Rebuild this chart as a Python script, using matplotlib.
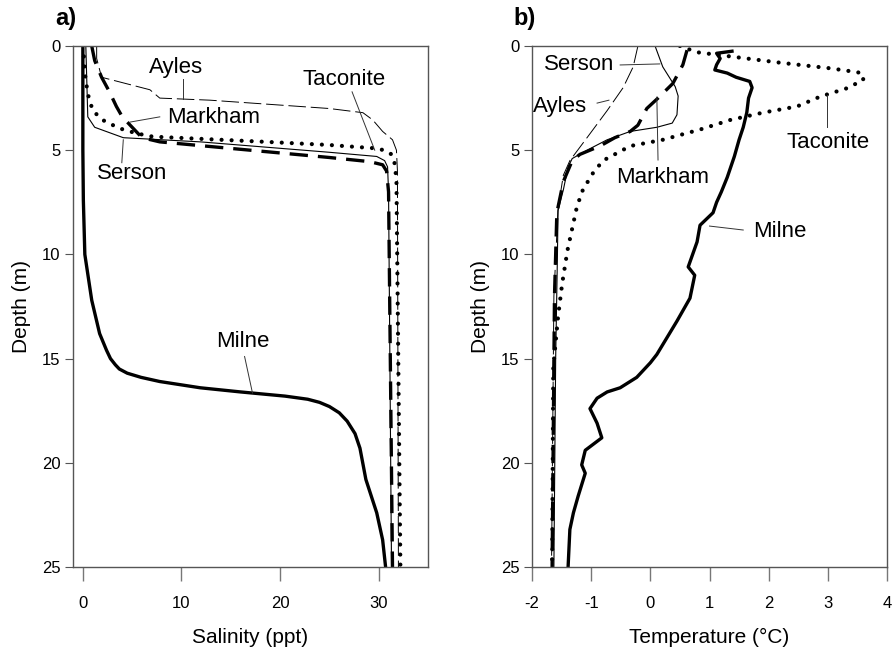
import matplotlib
matplotlib.use('Agg')
import matplotlib.pyplot as plt

plt.rcParams['font.family'] = ['Liberation Sans', 'DejaVu Sans']
plt.rcParams['axes.unicode_minus'] = False

# ---- a) salinity profiles (depth m, salinity ppt)
milne_sal_depth = [0, 5, 7.4, 10, 12.2, 13.8, 14.6, 15.0, 15.3, 15.5, 15.7, 15.9, 16.1, 16.4, 16.6,
                   16.8, 16.95, 17.1, 17.3, 17.6, 18.0, 18.6, 19.3, 20.8, 22.4, 23.7, 25]
milne_sal = [0.0, 0.0, 0.05, 0.2, 0.9, 1.7, 2.4, 2.8, 3.3, 3.7, 4.5, 5.9, 7.8, 11.9, 16.0,
             20.5, 22.8, 24.0, 25.0, 26.0, 26.8, 27.6, 28.1, 28.7, 29.8, 30.4, 30.7]

serson_sal_depth = [0, 3.4, 3.9, 4.4, 4.6, 5.1, 5.3, 5.5, 5.8, 7, 25]
serson_sal = [0.3, 0.5, 1.2, 4.1, 11.9, 25.0, 29.8, 30.6, 30.9, 31.0, 31.3]

markham_sal_depth = [0, 0.7, 1.5, 2.2, 2.9, 3.4, 3.9, 4.4, 4.6, 5.35, 5.55, 5.7, 6.0, 7, 25]
markham_sal = [0.9, 1.2, 1.9, 2.7, 3.4, 4.0, 5.0, 6.0, 7.8, 25.0, 29.1, 30.4, 30.8, 31.0, 31.4]

ayles_sal_depth = [0, 0.6, 1.5, 2.1, 2.5, 2.6, 3.0, 3.2, 3.55, 4.1, 4.5, 5.0, 6.0, 25]
ayles_sal = [1.4, 1.4, 1.9, 6.8, 7.8, 12.9, 25.0, 28.4, 29.4, 30.4, 31.4, 31.8, 31.9, 32.0]

taconite_sal_depth = [0.5, 1.3, 2.3, 3.1, 3.55, 3.95, 4.2, 4.35, 4.6, 4.75, 4.9, 5.0, 5.2, 5.6, 6.4, 25]
taconite_sal = [0.1, 0.2, 0.5, 1.0, 2.0, 3.7, 5.5, 7.1, 18.6, 25.0, 29.4, 30.6, 31.3, 31.6, 31.8, 32.2]

# ---- b) temperature profiles (depth m, deg C)
milne_temp_depth = [0.25, 0.35, 0.6, 0.9, 1.15, 1.3, 1.5, 1.7, 2.0, 2.5, 3.2, 3.9, 4.5, 5.3, 6.3,
                    7.0, 7.5, 8.0, 8.6, 9.4, 10.6, 11.0, 12.1, 13.2, 14.8, 15.2, 15.9, 16.4,
                    16.6, 16.9, 17.4, 18.1, 18.8, 19.4, 20.1, 20.5, 21.6, 22.4, 23.2, 25]
milne_temp = [1.38, 1.12, 1.18, 1.12, 1.09, 1.3, 1.45, 1.68, 1.72, 1.66, 1.63, 1.57, 1.5, 1.42, 1.3,
              1.2, 1.12, 1.06, 0.84, 0.79, 0.64, 0.75, 0.67, 0.45, 0.11, 0.0, -0.23, -0.51,
              -0.73, -0.9, -1.02, -0.9, -0.82, -1.1, -1.16, -1.1, -1.22, -1.3, -1.36, -1.39]

serson_temp_depth = [0, 1.0, 1.95, 2.4, 3.3, 3.7, 3.9, 4.1, 4.5, 5.0, 5.4, 5.8, 6.9, 7.9, 10, 15, 25]
serson_temp = [0.08, 0.21, 0.42, 0.47, 0.45, 0.37, 0.11, -0.34, -0.73, -1.07, -1.32, -1.39, -1.47,
               -1.56, -1.57, -1.6, -1.63]

markham_temp_depth = [0.2, 0.9, 1.8, 2.5, 3.0, 3.8, 4.1, 4.4, 4.8, 5.2, 5.5, 6.5, 8.0, 12, 25]
markham_temp = [0.62, 0.55, 0.38, 0.13, -0.06, -0.21, -0.34, -0.6, -0.85, -1.19, -1.32, -1.47,
                -1.58, -1.62, -1.66]

ayles_temp_depth = [0, 1.0, 2.0, 3.1, 4.4, 5.5, 6.2, 7.8, 12, 25]
ayles_temp = [-0.21, -0.29, -0.46, -0.73, -1.07, -1.36, -1.47, -1.56, -1.63, -1.67]

taconite_temp_depth = [0, 0.3, 0.5, 0.8, 1.07, 1.23, 1.3, 1.63, 2.03, 2.43, 2.9, 3.2, 3.55, 4.0,
                       4.5, 4.8, 5.5, 6.1, 6.9, 7.7, 9.8, 11.4, 13.0, 15.4, 25]
taconite_temp = [0.5, 0.79, 1.35, 2.19, 3.04, 3.43, 3.58, 3.6, 3.32, 2.87, 2.48, 1.9, 1.35, 0.85,
                 0.21, -0.34, -0.8, -0.97, -1.14, -1.24, -1.4, -1.49, -1.56, -1.64, -1.66]

sal_ticks = [0, 10, 20, 30]
temp_ticks = [-2, -1, 0, 1, 2, 3, 4]
depth_ticks = [0, 5, 10, 15, 20, 25]

# line styles per station
styles = {
    'Milne': dict(color='black', lw=2.4, ls='-'),
    'Serson': dict(color='black', lw=0.8, ls='-'),
    'Ayles': dict(color='black', lw=0.7, ls=(0, (18, 5))),
    'Markham': dict(color='black', lw=2.4, ls=(0, (5.5, 3))),
    'Taconite': dict(color='black', lw=3.0, ls=(0, (0.01, 2.4)), dash_capstyle='round'),
}

fig = plt.figure(figsize=(8.94, 6.54), dpi=100)
ax1 = fig.add_axes([73/894, 87/654, 355/894, 521/654])
ax2 = fig.add_axes([532/894, 87/654, 355/894, 521/654])

series_a = [('Milne', milne_sal, milne_sal_depth), ('Serson', serson_sal, serson_sal_depth),
            ('Ayles', ayles_sal, ayles_sal_depth), ('Markham', markham_sal, markham_sal_depth),
            ('Taconite', taconite_sal, taconite_sal_depth)]
series_b = [('Milne', milne_temp, milne_temp_depth), ('Serson', serson_temp, serson_temp_depth),
            ('Ayles', ayles_temp, ayles_temp_depth), ('Markham', markham_temp, markham_temp_depth),
            ('Taconite', taconite_temp, taconite_temp_depth)]

for ax, series in [(ax1, series_a), (ax2, series_b)]:
    for name, x, d in series:
        ax.plot(x, d, **styles[name])

# labels: text (x, depth), leader start, leader end
labels_a = [('Ayles', (9.4, 1.05), (10.2, 1.6), (10.2, 2.55)),
            ('Taconite', (26.5, 1.63), (27.3, 2.2), (29.6, 5.0)),
            ('Markham', (13.3, 3.45), (7.8, 3.4), (4.8, 3.65)),
            ('Serson', (5.0, 6.1), (3.95, 5.6), (4.1, 4.5)),
            ('Milne', (16.2, 14.2), (16.4, 14.9), (17.2, 16.65))]
labels_b = [('Serson', (-1.2, 0.87), (-0.51, 0.91), (0.16, 0.86)),
            ('Ayles', (-1.53, 2.9), (-0.9, 2.74), (-0.7, 2.6)),
            ('Markham', (0.21, 6.3), (0.13, 5.47), (0.11, 2.45)),
            ('Taconite', (3.0, 4.65), (2.98, 3.9), (2.98, 2.35)),
            ('Milne', (2.19, 8.9), (1.57, 8.83), (1.0, 8.64))]

for ax, labels in [(ax1, labels_a), (ax2, labels_b)]:
    for txt, pos, p0, p1 in labels:
        ax.text(pos[0], pos[1], txt, fontsize=16, ha='center', va='center')
        ax.plot([p0[0], p1[0]], [p0[1], p1[1]], color='#333333', lw=0.7)

ax1.set_xlim(-1, 35)
ax1.set_xticks(sal_ticks)
ax1.set_xlabel('Salinity (ppt)', fontsize=15, labelpad=12)
ax2.set_xlim(-2, 4)
ax2.set_xticks(temp_ticks)
ax2.set_xlabel('Temperature (\u00b0C)', fontsize=15, labelpad=12)

for ax in (ax1, ax2):
    ax.set_ylim(25, 0)
    ax.set_yticks(depth_ticks)
    ax.set_ylabel('Depth (m)', fontsize=15, labelpad=8)
    ax.tick_params(axis='x', direction='out', length=10, width=1, color='#777777', pad=11, labelsize=12)
    ax.tick_params(axis='y', direction='out', length=6, width=0.8, color='#555555', pad=3, labelsize=12)
    for sp in ax.spines.values():
        sp.set_color('#555555')
        sp.set_linewidth(1.0)

fig.text(55/894, 1 - 18/654, 'a)', fontsize=17, fontweight='bold', va='center', ha='left')
fig.text(513/894, 1 - 18/654, 'b)', fontsize=17, fontweight='bold', va='center', ha='left')

fig.savefig('out.png', dpi=100)
